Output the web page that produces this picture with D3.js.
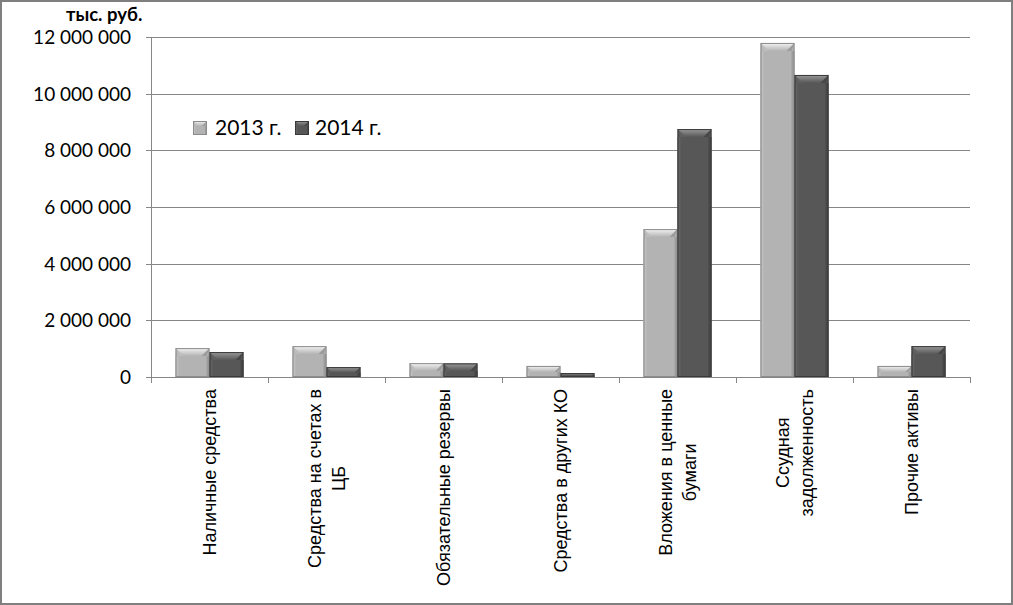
<!DOCTYPE html>
<html><head><meta charset="utf-8">
<script src="https://cdn.jsdelivr.net/npm/d3@7"></script>
<style>body{margin:0;background:#fff}svg{display:block}</style>
</head><body>
<svg id="c" width="1013" height="605"></svg>
<script>
const categories = [
  ["Наличные средства"],
  ["Средства на счетах в", "ЦБ"],
  ["Обязательные резервы"],
  ["Средства в других КО"],
  ["Вложения в ценные", "бумаги"],
  ["Ссудная", "задолженность"],
  ["Прочие активы"]
];
const seriesNames = ["2013 г.", "2014 г."];
const values2013 = [1020000, 1090000, 490000, 390000, 5220000, 11790000, 390000];
const values2014 = [880000, 350000, 480000, 140000, 8750000, 10660000, 1090000];
const yTicks = [0, 2000000, 4000000, 6000000, 8000000, 10000000, 12000000];
const unitLabel = "тыс. руб.";

const svg = d3.select("#c");
const W = 1013, H = 605;
const L = 151, R = 970, T = 37, B = 377;
const grid = "#868686";

svg.append("rect").attr("x",1).attr("y",1).attr("width",W-2).attr("height",H-2)
  .attr("fill","#fff").attr("stroke","#7f7f7f").attr("stroke-width",2);

const defs = svg.append("defs");
const grads = [["g0","#f4f4f4","#b3b3b3"],["g1","#9a9a9a","#575757"]];
grads.forEach(([id,c1,c2])=>{
  const lgd = defs.append("linearGradient").attr("id",id).attr("x1",0).attr("x2",0).attr("y1",0).attr("y2",1);
  lgd.append("stop").attr("offset","0%").attr("stop-color",c1);
  lgd.append("stop").attr("offset","100%").attr("stop-color",c2);
});

const catIdx = categories.map((d,i)=>i);
const x0 = d3.scaleBand().domain(catIdx).range([L,R]).paddingInner(0).paddingOuter(0);
const x1 = d3.scaleBand().domain([0,1]).range([24.5, x0.bandwidth()-24.5]).padding(0);
const y = d3.scaleLinear().domain([0,12000000]).range([B,T]);
const loc = d3.formatLocale({decimal:",", thousands:"\u00a0", grouping:[3], currency:["",""]});
const fmt = loc.format(",d");

svg.append("g").selectAll("line").data(yTicks).join("line")
  .attr("x1",L-5).attr("x2",R).attr("y1",d=>Math.round(y(d))+0.5).attr("y2",d=>Math.round(y(d))+0.5)
  .attr("stroke",grid).attr("stroke-width",1);
svg.append("line").attr("x1",L+0.5).attr("x2",L+0.5).attr("y1",T).attr("y2",B+0.5).attr("stroke",grid);
const catEdges = d3.range(categories.length+1).map(i=>L + i*x0.bandwidth());
svg.append("g").selectAll("line").data(catEdges).join("line")
  .attr("x1",d=>Math.round(d)+0.5).attr("x2",d=>Math.round(d)+0.5).attr("y1",B).attr("y2",B+6)
  .attr("stroke",grid);

svg.append("g").selectAll("text").data(yTicks).join("text")
  .attr("x",L-20).attr("y",d=>y(d)).attr("dy","0.36em").attr("text-anchor","end")
  .attr("font-family","Lato, 'Open Sans', sans-serif").attr("font-size",19).attr("fill","#000")
  .text(d=>fmt(d));
svg.append("text").attr("x",66).attr("y",21).attr("font-family","Lato, 'Open Sans', sans-serif")
  .attr("font-weight","bold").attr("font-size",18.5).text(unitLabel);

const styles = [
  {base:"#b3b3b3", top:"url(#g0)", left:"#bdbdbd", right:"#9c9c9c", stroke:"#8c8c8c"},
  {base:"#575757", top:"url(#g1)", left:"#616161", right:"#474747", stroke:"#3a3a3a"}
];
function bevel(g, x, yy, w, h, st, bt, bs){
  const b = Math.min(bt, h*0.55, w/2);
  const s = Math.min(bs, w/2);
  g.append("rect").attr("x",x).attr("y",yy).attr("width",w).attr("height",h).attr("fill",st.base);
  const poly = (pts, fill) => g.append("polygon").attr("points",pts.map(p=>p.join(",")).join(" ")).attr("fill",fill);
  poly([[x,yy+b],[x+s,yy+b],[x+s,yy+h],[x,yy+h]], st.left);
  poly([[x+w-s,yy+b],[x+w,yy+b],[x+w,yy+h],[x+w-s,yy+h]], st.right);
  poly([[x,yy],[x+w,yy],[x+w-b,yy+b],[x+b,yy+b]], st.top);
  poly([[x,yy],[x+b,yy+b],[x+s,yy+b]], st.left);
  poly([[x+w,yy],[x+w-b,yy+b],[x+w-s,yy+b]], st.right);
  g.append("rect").attr("x",x+0.5).attr("y",yy+0.5).attr("width",Math.max(0,w-1)).attr("height",Math.max(0,h-1))
    .attr("fill","none").attr("stroke",st.stroke).attr("stroke-width",1);
}
const series = [values2013, values2014];
const barsG = svg.append("g");
series.forEach((vals, si)=>{
  vals.forEach((v, ci)=>{
    const bx = x0(ci) + x1(si);
    const by = y(v);
    bevel(barsG, bx, by, x1.bandwidth(), y(0)-by, styles[si], 8, 3);
  });
});

const labG = svg.append("g");
categories.forEach((lines, ci)=>{
  const cx = x0(ci) + x0.bandwidth()/2;
  const t = labG.append("text").attr("font-family","'Liberation Sans', Arial, sans-serif").attr("font-size",18)
    .attr("text-anchor","middle").attr("transform","rotate(-90)");
  const spans = lines.map(s=>t.append("tspan").text(s));
  const maxLen = d3.max(spans, s=>s.node().getComputedTextLength());
  const centerY = 389 + maxLen/2;
  const lh = 24, n = lines.length;
  spans.forEach((s,li)=>{
    s.attr("x", -centerY).attr("y", cx + (li - (n-1)/2)*lh + 6);
  });
});

const lg = svg.append("g");
const legendPos = [[193,215],[295,315]];
seriesNames.forEach((name, si)=>{
  bevel(lg, legendPos[si][0], 121, 14, 14, styles[si], 5, 2);
  lg.append("text").attr("x",legendPos[si][1]).attr("y",135)
    .attr("font-family","Lato, 'Open Sans', sans-serif").attr("font-size",21).text(name);
});
</script>
</body></html>
